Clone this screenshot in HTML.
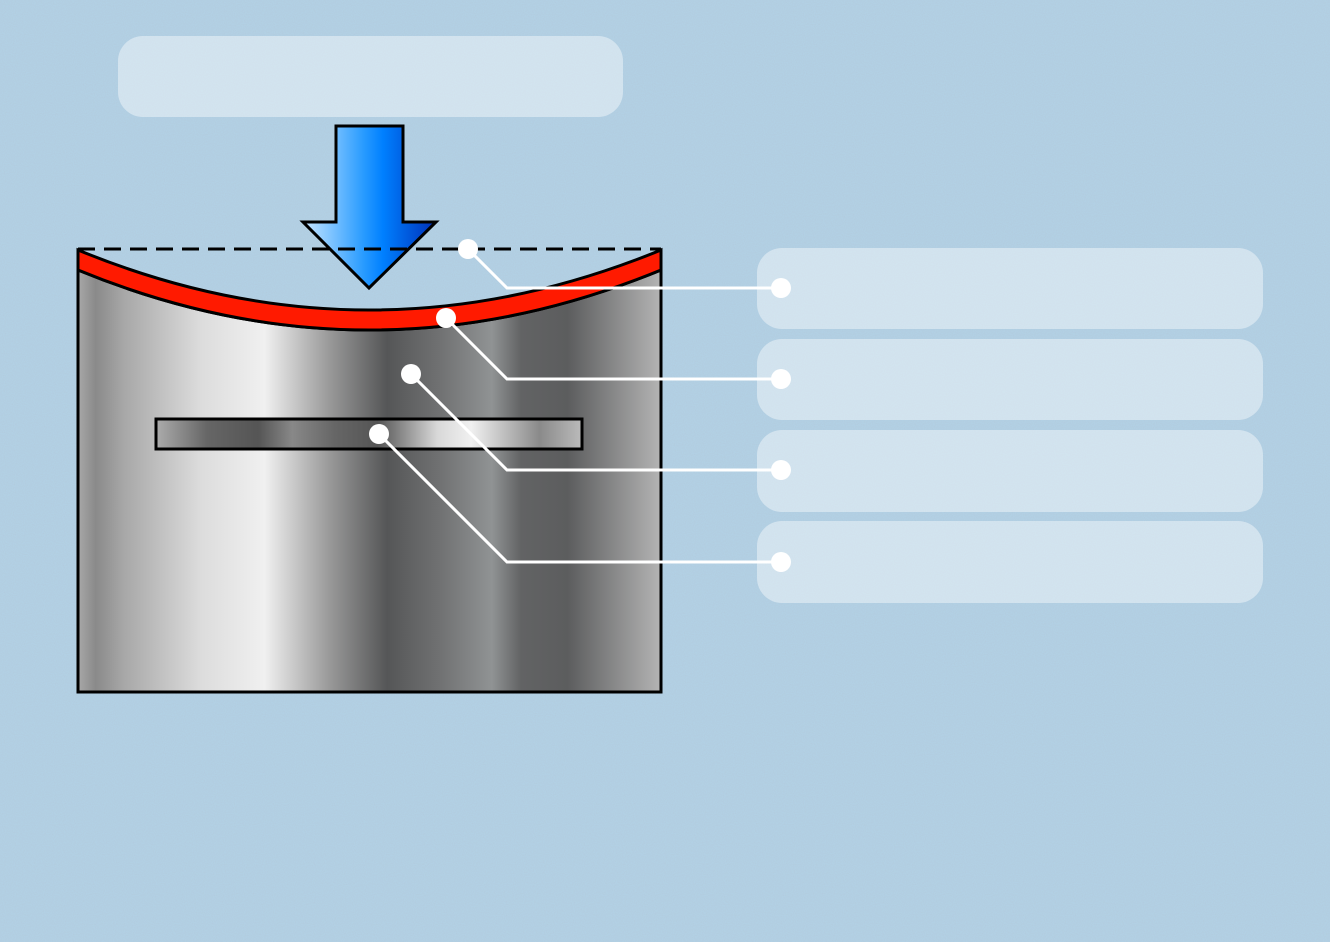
<!DOCTYPE html>
<html><head><meta charset="utf-8"><style>html,body{margin:0;padding:0;background:#afcde0;}svg{display:block}</style></head>
<body>
<svg width="1330" height="942" viewBox="0 0 1330 942" xmlns="http://www.w3.org/2000/svg">
<defs>
<linearGradient id="g1" gradientUnits="userSpaceOnUse" x1="78" y1="0" x2="661" y2="0">
<stop offset="0" stop-color="#a8a8a8"/><stop offset="0.03" stop-color="#8a8a8a"/><stop offset="0.08" stop-color="#a8a8a8"/>
<stop offset="0.21" stop-color="#dcdcdc"/><stop offset="0.32" stop-color="#f0f0f0"/><stop offset="0.43" stop-color="#9a9a9a"/>
<stop offset="0.53" stop-color="#555657"/><stop offset="0.62" stop-color="#707172"/><stop offset="0.71" stop-color="#909394"/>
<stop offset="0.76" stop-color="#626364"/><stop offset="0.84" stop-color="#5c5d5e"/><stop offset="1" stop-color="#b4b4b4"/>
</linearGradient>
<linearGradient id="g2" gradientUnits="userSpaceOnUse" x1="156" y1="0" x2="582" y2="0">
<stop offset="0" stop-color="#acacac"/><stop offset="0.12" stop-color="#666"/><stop offset="0.24" stop-color="#555"/>
<stop offset="0.32" stop-color="#888"/><stop offset="0.42" stop-color="#666"/><stop offset="0.52" stop-color="#555"/>
<stop offset="0.66" stop-color="#d8d8d8"/><stop offset="0.74" stop-color="#f0f0f0"/><stop offset="0.9" stop-color="#8a8a8a"/><stop offset="1" stop-color="#bbb"/>
</linearGradient>
<linearGradient id="g3" gradientUnits="userSpaceOnUse" x1="303" y1="0" x2="436" y2="0">
<stop offset="0" stop-color="#c8e6ff"/><stop offset="0.45" stop-color="#2a9cff"/><stop offset="0.6" stop-color="#0080ff"/><stop offset="1" stop-color="#0030b8"/>
</linearGradient>
<filter id="n"><feTurbulence type="fractalNoise" baseFrequency="0.9" numOctaves="2" seed="3"/><feColorMatrix values="0 0 0 0 0.45  0 0 0 0 0.55  0 0 0 0 0.65  0 0 0 1.2 -0.45"/></filter>
</defs>
<rect width="1330" height="942" fill="#b2d0e4"/>
<rect width="1330" height="942" filter="url(#n)" opacity="0.6"/>
<rect x="118" y="36" width="505" height="81" rx="25" fill="#fff" fill-opacity="0.42"/>
<g fill="#fff" fill-opacity="0.42">
<rect x="757" y="248" width="506" height="81" rx="25"/>
<rect x="757" y="339" width="506" height="81" rx="25"/>
<rect x="757" y="430" width="506" height="82" rx="25"/>
<rect x="757" y="521" width="506" height="82" rx="25"/>
</g>
<path d="M78,270 Q369,390 661,270 L661,692 L78,692 Z" fill="url(#g1)" stroke="#000" stroke-width="3"/>
<path d="M78,250 Q369,370 661,250 L661,270 Q369,390 78,270 Z" fill="#ff1a00" stroke="#000" stroke-width="3"/>
<rect x="156" y="419" width="426" height="30" fill="url(#g2)" stroke="#000" stroke-width="3"/>
<path d="M336,126 L403,126 L403,222 L436,222 L369,288 L303,222 L336,222 Z" fill="url(#g3)" stroke="#000" stroke-width="3" stroke-linejoin="miter"/>
<line x1="78" y1="249" x2="661" y2="249" stroke="#000" stroke-width="3" stroke-dasharray="17,9"/>
<g stroke="#fff" stroke-width="3" fill="none">
<polyline points="468,249 507,288 781,288"/>
<polyline points="446,318 507,379 781,379"/>
<polyline points="411,374 507,470 781,470"/>
<polyline points="379,434 507,562 781,562"/>
</g>
<g fill="#fff">
<ellipse cx="468" cy="249" rx="10" ry="10"/><circle cx="781" cy="288" r="10"/>
<ellipse cx="446" cy="318" rx="10" ry="10"/><circle cx="781" cy="379" r="10"/>
<ellipse cx="411" cy="374" rx="10" ry="10"/><circle cx="781" cy="470" r="10"/>
<ellipse cx="379" cy="434" rx="10" ry="10"/><circle cx="781" cy="562" r="10"/>
</g>
</svg>
</body></html>
